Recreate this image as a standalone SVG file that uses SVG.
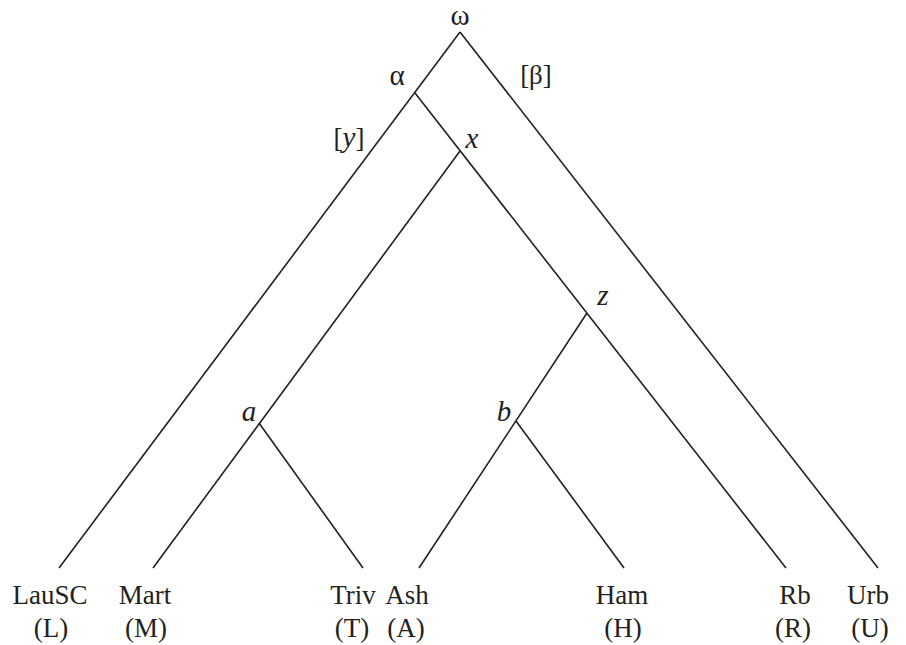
<svg xmlns="http://www.w3.org/2000/svg" width="906" height="645" viewBox="0 0 906 645">
<style>
.e{stroke:#231f20;stroke-width:1.6;fill:none;stroke-linecap:butt}
.t{font-family:"Liberation Serif","Times New Roman",serif;font-size:27px;fill:#231f20;text-anchor:middle}
.i{font-style:italic;font-size:29px}
.g{font-size:29px}
</style>
<rect width="906" height="645" fill="#ffffff"/>
<g id="connectors">
<line class="e" x1="460" y1="32" x2="59" y2="568"/>
<line class="e" x1="460" y1="32" x2="878" y2="568"/>
<line class="e" x1="415" y1="93" x2="786" y2="568"/>
<line class="e" x1="460" y1="151" x2="153" y2="568"/>
<line class="e" x1="259" y1="423" x2="363" y2="568"/>
<line class="e" x1="587" y1="313" x2="419" y2="568"/>
<line class="e" x1="516" y1="421" x2="624" y2="568"/>
</g>
<g id="node-omega"><text class="t g" x="460" y="25">ω</text></g>
<g id="node-alpha"><text class="t g" x="397" y="85">α</text></g>
<g id="label-beta"><text class="t" x="536" y="84">[β]</text></g>
<g id="label-y"><text class="t" x="349" y="147">[<tspan class="i">y</tspan>]</text></g>
<g id="node-x"><text class="t i" x="472" y="148">x</text></g>
<g id="node-z"><text class="t i" x="603" y="305">z</text></g>
<g id="node-a"><text class="t i" x="249" y="421">a</text></g>
<g id="node-b"><text class="t i" x="504" y="421">b</text></g>
<g id="node-L"><text class="t" x="50" y="604">LauSC</text><text class="t" x="51" y="637">(L)</text></g>
<g id="node-M"><text class="t" x="145" y="604">Mart</text><text class="t" x="146" y="637">(M)</text></g>
<g id="node-T"><text class="t" x="353" y="604">Triv</text><text class="t" x="352" y="637">(T)</text></g>
<g id="node-A"><text class="t" x="407" y="604">Ash</text><text class="t" x="406" y="637">(A)</text></g>
<g id="node-H"><text class="t" x="622" y="604">Ham</text><text class="t" x="623" y="637">(H)</text></g>
<g id="node-R"><text class="t" x="795" y="604">Rb</text><text class="t" x="793" y="637">(R)</text></g>
<g id="node-U"><text class="t" x="868" y="604">Urb</text><text class="t" x="870" y="637">(U)</text></g>
</svg>
